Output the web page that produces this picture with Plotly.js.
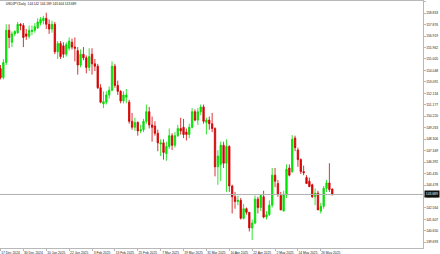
<!DOCTYPE html>
<html>
<head>
<meta charset="utf-8">
<script src="https://cdn.plot.ly/plotly-3.0.1.min.js"></script>
<style>html,body{margin:0;padding:0;background:#fff;}#chart{width:440px;height:254px;}</style>
</head>
<body>
<div id="chart"></div>
<script>
// Daily USDJPY candles, 17 Dec 2024 .. 30 May 2025 (one entry per trading day)
const openP = [154.20,153.45,154.70,157.40,156.40,157.10,157.20,157.90,157.80,157.10,
156.90,157.30,157.40,157.60,158.00,158.20,158.40,157.90,157.50,157.90,
155.60,156.30,156.10,155.40,155.90,156.40,156.00,155.70,154.50,155.40,
155.10,154.30,155.40,154.60,154.40,152.60,151.25,151.40,152.00,152.40,
154.40,152.80,152.30,151.50,151.80,151.40,149.80,149.30,149.70,149.00,
149.10,149.80,150.60,149.50,149.40,148.80,147.90,148.00,147.10,147.70,
148.60,147.80,148.60,149.20,149.30,148.90,148.70,149.30,150.60,149.90,
150.60,151.00,149.70,149.90,149.60,149.20,146.00,146.20,147.80,146.30,
147.70,144.40,143.50,143.10,143.20,141.70,142.50,142.20,140.90,141.30,
143.30,142.60,143.50,141.80,142.00,142.80,145.30,144.60,143.60,142.30,
143.70,145.90,145.60,148.40,147.40,146.60,145.60,145.10,144.80,144.50,
143.50,143.80,142.30,142.70,144.20,144.65,144.142];
const highP = [154.50,155.00,157.90,157.90,157.30,157.40,158.10,158.00,158.00,157.50,
157.80,157.80,158.00,158.40,158.50,158.60,158.87,158.30,158.20,158.10,
156.50,156.50,156.40,156.40,156.80,156.70,156.80,156.00,155.80,156.00,
155.30,155.90,155.90,155.00,154.60,152.90,152.30,152.30,152.70,154.80,
154.60,153.20,152.40,152.30,152.50,151.60,150.50,150.10,149.80,149.50,
150.00,151.20,151.00,150.20,149.80,149.10,148.30,148.30,148.10,149.20,
148.80,148.90,149.50,150.10,150.00,149.20,149.60,150.90,150.80,150.90,
151.20,151.20,150.10,150.20,150.50,149.30,147.40,148.10,148.10,148.30,
147.80,144.50,143.90,143.60,143.40,142.90,142.60,142.20,141.60,143.60,
143.50,143.70,144.00,142.30,143.20,145.90,145.90,144.90,143.90,144.00,
146.20,146.20,148.65,148.60,147.60,146.70,146.10,145.30,145.10,144.60,
144.20,144.00,143.00,144.40,144.90,146.30,144.189];
const lowP = [153.30,153.30,154.50,155.90,156.00,156.90,157.10,157.40,156.00,156.60,
156.70,157.00,157.20,157.50,157.80,157.90,157.50,157.10,157.20,155.40,
155.00,155.00,155.10,155.20,155.70,155.80,154.80,153.70,154.30,154.90,
153.80,154.00,153.70,154.00,152.50,151.30,150.90,151.20,151.70,152.30,
152.60,152.00,151.30,151.30,151.30,149.60,149.10,149.00,148.60,148.80,
148.90,149.60,149.20,148.10,148.60,147.30,146.90,146.60,146.50,147.50,
147.40,147.60,148.50,148.70,148.40,148.20,148.40,149.20,149.80,149.50,
150.30,149.60,148.70,149.10,148.90,145.20,144.50,144.80,145.90,143.90,
143.90,142.10,142.50,142.80,141.60,141.60,142.00,140.60,139.89,141.20,
142.10,142.30,141.70,141.60,141.90,142.60,144.30,143.50,142.40,142.30,
143.40,145.20,145.50,147.30,146.00,145.40,145.30,144.60,144.30,143.40,
142.80,142.40,142.10,142.50,143.90,143.90,143.604];
const closeP = [153.45,154.70,157.40,156.80,157.10,157.30,157.90,157.80,156.80,156.90,
157.40,157.40,157.70,158.10,158.30,158.40,157.90,157.50,157.90,155.60,
156.30,155.20,155.40,156.20,156.50,156.00,155.90,154.50,155.40,155.10,
154.30,155.20,154.60,154.40,152.60,151.40,151.45,152.00,152.40,154.40,
152.80,152.30,151.50,152.00,152.00,149.80,149.30,149.70,149.00,149.10,
149.80,150.60,149.50,149.30,148.80,148.00,148.00,147.20,147.70,148.60,
147.80,148.60,149.20,149.00,148.70,148.70,149.30,150.60,149.90,150.60,
151.00,149.80,149.90,149.60,149.20,146.00,146.90,147.80,146.30,147.70,
144.40,143.50,143.10,143.20,141.70,142.50,142.20,140.90,141.30,143.30,
142.60,143.60,141.80,142.00,142.80,145.30,144.80,143.70,142.40,143.70,
145.80,145.30,148.30,147.60,146.60,145.60,145.50,144.60,144.35,143.50,
143.80,142.40,142.70,144.20,144.65,144.10,143.689];

const xTickIdx = [0,8,16,24,32,40,48,56,64,72,80,88,96,104,112];
const xTickLabels = ["17 Dec 2024","30 Dec 2024","10 Jan 2025","22 Jan 2025","3 Feb 2025",
"13 Feb 2025","25 Feb 2025","7 Mar 2025","19 Mar 2025","31 Mar 2025","10 Apr 2025",
"22 Apr 2025","2 May 2025","14 May 2025","26 May 2025"];
const yTicks = [159.790,158.833,157.876,156.919,155.962,155.005,154.048,153.091,152.134,151.177,
150.220,149.263,148.306,147.349,146.392,145.435,144.478,143.521,142.564,141.607,140.650,139.693];
const symbolName = "USDJPY,Daily";
const lastBar = {o:144.142, h:144.189, l:143.604, c:143.689};

const idx = closeP.map((_, i) => i);

const trace = {
  type: 'candlestick',
  x: idx, open: openP, high: highP, low: lowP, close: closeP,
  increasing: {line: {color: '#00d800', width: 0.8}, fillcolor: '#00ee00'},
  decreasing: {line: {color: '#d00000', width: 0.8}, fillcolor: '#dd0000'},
  whiskerwidth: 0,
  hoverinfo: 'skip'
};

const axisFont = {family: 'Liberation Sans, Arial, sans-serif', size: 3.3, color: '#222'};

const layout = {
  width: 440, height: 254,
  margin: {l: 0, r: 17, t: 1, b: 6, pad: 0},
  paper_bgcolor: '#ffffff', plot_bgcolor: '#ffffff',
  showlegend: false,
  title: {
    text: symbolName + '  ' + [lastBar.o, lastBar.h, lastBar.l, lastBar.c].map(v => v.toFixed(3)).join(' '),
    font: {family: 'Liberation Sans, Arial, sans-serif', size: 3.2, color: '#111'},
    x: 0.013, xanchor: 'left', xref: 'container',
    y: 0.984, yanchor: 'middle', yref: 'container'
  },
  xaxis: {
    range: [-0.175, 147.73],
    rangeslider: {visible: false},
    showgrid: false, zeroline: false,
    showline: true, mirror: true, linecolor: '#b8b8b8', linewidth: 1,
    tickmode: 'array', tickvals: xTickIdx, ticktext: xTickLabels,
    ticks: 'outside', ticklen: 1.5, tickcolor: '#b8b8b8',
    ticklabelshift: 10, ticklabelstandoff: 0,
    tickfont: axisFont, fixedrange: true
  },
  yaxis: {
    side: 'right',
    range: [139.22, 159.846],
    showgrid: false, zeroline: false,
    showline: true, linecolor: '#b8b8b8', linewidth: 1,
    tickmode: 'array', tickvals: yTicks, ticktext: yTicks.map(v => v.toFixed(3)),
    ticks: 'outside', ticklen: 1.5, tickcolor: '#b8b8b8',
    ticklabelstandoff: 0,
    tickfont: axisFont, fixedrange: true
  },
  shapes: [{
    type: 'line', xref: 'paper', x0: 0, x1: 1, yref: 'y', y0: lastBar.c, y1: lastBar.c,
    line: {color: '#b0b0b0', width: 1}
  }],
  annotations: [{
    xref: 'paper', x: 1, xanchor: 'left', xshift: 1,
    yref: 'y', y: lastBar.c, yanchor: 'middle',
    text: lastBar.c.toFixed(3), showarrow: false,
    bgcolor: '#111111', borderpad: 0.8,
    font: {family: 'Liberation Sans, Arial, sans-serif', size: 3.3, color: '#ffffff'}
  }]
};

Plotly.newPlot('chart', [trace], layout, {staticPlot: true, displayModeBar: false});
</script>
</body>
</html>
